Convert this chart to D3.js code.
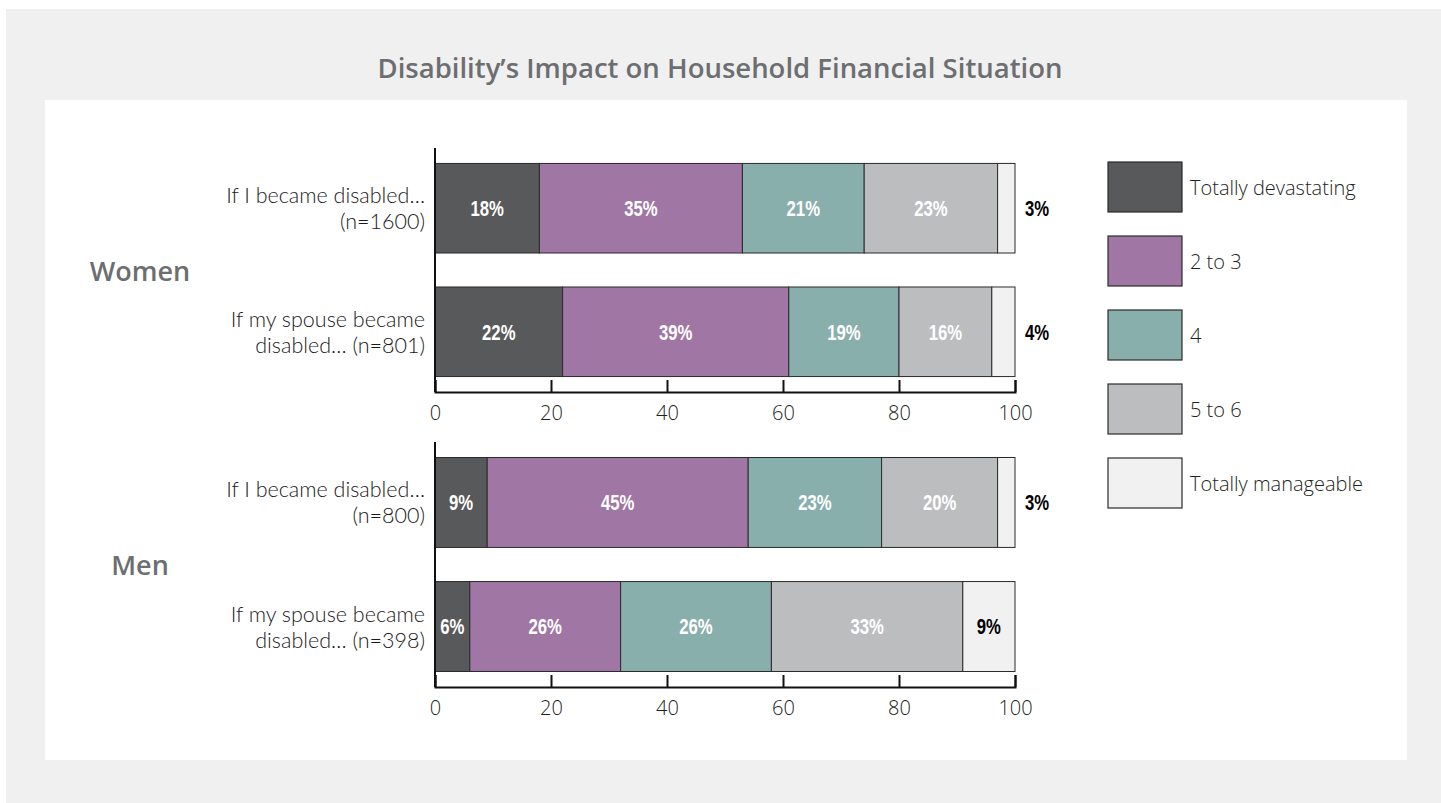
<!DOCTYPE html>
<html>
<head>
<meta charset="utf-8">
<script src="https://cdn.jsdelivr.net/npm/d3@7"></script>
<style>
  html, body { margin: 0; padding: 0; background: #ffffff; }
  svg { display: block; }
  .legend-label, .axis-label { font-family: "Open Sans", "Noto Sans", sans-serif; font-weight: 300; fill: #231f20; }
  .cat { font-family: Lato, "Open Sans", sans-serif; font-weight: 300; fill: #1a1a1a; }
  .seg-label { font-family: "Liberation Sans", Arial, sans-serif; font-weight: bold; }
  .heading { font-family: "Open Sans", "Noto Sans", sans-serif; font-weight: 600; fill: #6d6e71; }
</style>
</head>
<body>
<svg id="chart" width="1441" height="803"></svg>
<script>
// ---- data -------------------------------------------------------------
const seriesNames = ["Totally devastating", "2 to 3", "4", "5 to 6", "Totally manageable"];
const seriesColors = ["#58595b", "#a076a5", "#88afab", "#bcbdbf", "#f1f1f1"];
const labelColors = ["#ffffff", "#ffffff", "#ffffff", "#ffffff", "#000000"];

const groupNames = ["Women", "Men"];
const womenQuestionLines = [
  ["If I became disabled…", "(n=1600)"],
  ["If my spouse became", "disabled… (n=801)"]
];
const menQuestionLines = [
  ["If I became disabled…", "(n=800)"],
  ["If my spouse became", "disabled… (n=398)"]
];

const womenSelf = [18, 35, 21, 23, 3];
const womenSpouse = [22, 39, 19, 16, 4];
const menSelf = [9, 45, 23, 20, 3];
const menSpouse = [6, 26, 26, 33, 9];

const tickValues = [0, 20, 40, 60, 80, 100];

const panels = [
  { group: groupNames[0], rows: [
      { lines: womenQuestionLines[0], values: womenSelf },
      { lines: womenQuestionLines[1], values: womenSpouse } ], top: 148, bottom: 392 },
  { group: groupNames[1], rows: [
      { lines: menQuestionLines[0], values: menSelf },
      { lines: menQuestionLines[1], values: menSpouse } ], top: 442, bottom: 687 }
];

// ---- layout -----------------------------------------------------------
const svg = d3.select("#chart");

svg.append("rect").attr("x", 6).attr("y", 9).attr("width", 1435).attr("height", 794).attr("fill", "#f0f0f0");
svg.append("rect").attr("x", 45).attr("y", 100).attr("width", 1362).attr("height", 660).attr("fill", "#ffffff");

svg.append("text").attr("class", "heading")
  .attr("x", 720).attr("y", 67)
  .attr("text-anchor", "middle").attr("dominant-baseline", "central")
  .style("font-size", "27.5px")
  .text("Disability’s Impact on Household Financial Situation");

const x = d3.scaleLinear().domain([0, 100]).range([435, 1015]);

panels.forEach(panel => {
  const y = d3.scaleBand()
    .domain(d3.range(panel.rows.length))
    .range([panel.top, panel.bottom])
    .paddingInner(0.275)
    .paddingOuter(0.125);

  const g = svg.append("g");

  // group label
  g.append("text").attr("class", "heading")
    .attr("x", 140)
    .attr("y", (y(0) + y(panel.rows.length - 1) + y.bandwidth()) / 2)
    .attr("text-anchor", "middle").attr("dominant-baseline", "central")
    .style("font-size", "27px")
    .text(panel.group);

  panel.rows.forEach((row, i) => {
    const cy = y(i) + y.bandwidth() / 2;
    const stacks = d3.cumsum(row.values);
    const segs = row.values.map((v, k) => ({ v, k, x0: stacks[k] - v, x1: stacks[k] }));

    // category label, one text per line, right aligned
    row.lines.forEach((line, li) => {
      g.append("text").attr("class", "cat")
        .attr("text-anchor", "end")
        .attr("x", 425)
        .attr("y", cy + (li - (row.lines.length - 1) / 2) * 26)
        .attr("dominant-baseline", "central")
        .style("font-size", "21.5px")
        .text(line);
    });

    g.selectAll(null).data(segs).enter().append("rect")
      .attr("x", d => x(d.x0))
      .attr("y", y(i))
      .attr("width", d => x(d.x1) - x(d.x0))
      .attr("height", y.bandwidth())
      .attr("fill", d => seriesColors[d.k])
      .attr("stroke", "#2b2b2b")
      .attr("stroke-width", 1);

    // value labels: narrow bold figures, small segments labelled past the bar end
    g.selectAll(null).data(segs).enter().append("text")
      .attr("class", "seg-label")
      .attr("transform", d => `translate(${d.v < 5 ? x(100) + 10 : x((d.x0 + d.x1) / 2)},${cy}) scale(0.76,1)`)
      .attr("text-anchor", d => d.v < 5 ? "start" : "middle")
      .attr("dominant-baseline", "central")
      .style("font-size", "22px")
      .attr("fill", d => d.v < 5 ? "#000000" : labelColors[d.k])
      .text(d => d.v + "%");
  });

  // left axis line
  g.append("line")
    .attr("x1", x(0)).attr("x2", x(0))
    .attr("y1", panel.top).attr("y2", panel.bottom)
    .attr("stroke", "#111").attr("stroke-width", 2);

  // bottom axis with inward ticks
  const ax = g.append("g")
    .attr("transform", `translate(0,${panel.bottom})`)
    .call(d3.axisBottom(x).tickValues(tickValues).tickSize(-12).tickSizeOuter(-12).tickPadding(14));
  ax.select(".domain").attr("stroke", "#111").attr("stroke-width", 2);
  ax.selectAll(".tick line").attr("stroke", "#111").attr("stroke-width", 2);
  ax.selectAll(".tick text").attr("class", "axis-label")
    .attr("fill", null)
    .style("font-size", "20px");
});

// ---- legend -----------------------------------------------------------
const legend = svg.append("g");
const ly = d3.scaleBand().domain(seriesNames).range([162, 162 + 74 * seriesNames.length]).paddingInner(0);
seriesNames.forEach((name, k) => {
  legend.append("rect")
    .attr("x", 1108).attr("y", ly(name))
    .attr("width", 74).attr("height", 50)
    .attr("fill", seriesColors[k])
    .attr("stroke", "#2b2b2b").attr("stroke-width", 1.2);
  legend.append("text").attr("class", "legend-label")
    .attr("x", 1190).attr("y", ly(name) + 25)
    .attr("dominant-baseline", "central")
    .style("font-size", "20px")
    .text(name);
});
</script>
</body>
</html>
